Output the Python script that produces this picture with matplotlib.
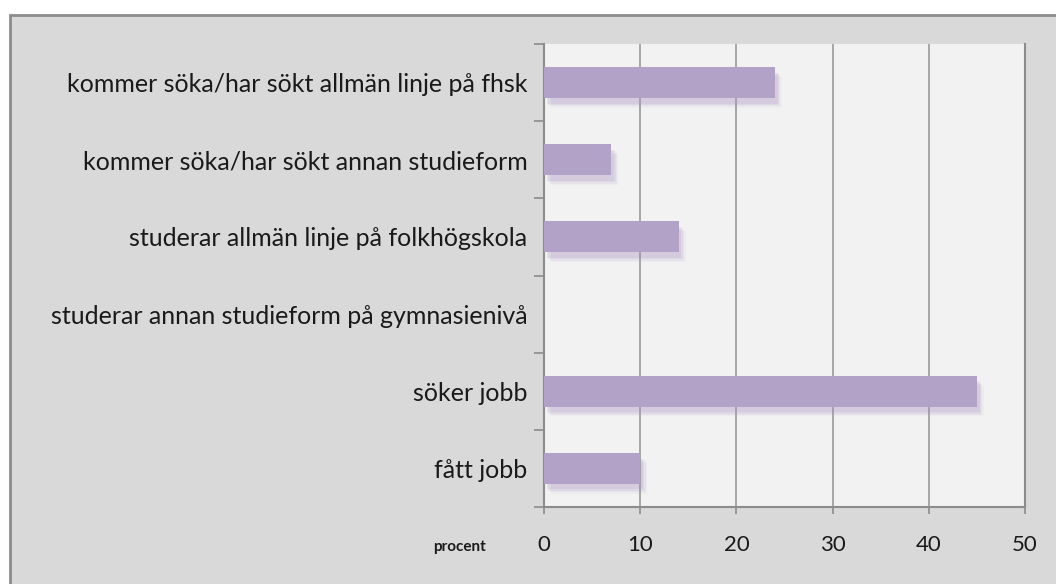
import matplotlib
matplotlib.use("Agg")
import matplotlib.pyplot as plt
import matplotlib.patheffects as pe
from matplotlib.patches import Rectangle
import numpy as np

categories = [
    "kommer söka/har sökt allmän linje på fhsk",
    "kommer söka/har sökt annan studieform",
    "studerar allmän linje på folkhögskola",
    "studerar annan studieform på gymnasienivå",
    "söker jobb",
    "fått jobb",
]
values = [24, 7, 14, 0, 45, 10]
xticks = [0, 10, 20, 30, 40, 50]

plt.rcParams['font.family'] = ['Lato', 'DejaVu Sans']

fig = plt.figure(figsize=(10.56, 5.84), dpi=100)
fig.patch.set_facecolor("white")

# outer chart frame (cut off on the right and bottom)
frame = Rectangle((10 / 1056, -0.1), 1.2, 1 - 15 / 584 + 0.1, transform=fig.transFigure,
                  facecolor="#d9d9d9", edgecolor="#8c8c8c", linewidth=2, zorder=-10)
fig.patches.append(frame)

ax = fig.add_axes([544 / 1056, 1 - 507 / 584, 481 / 1056, 463 / 584])
ax.set_facecolor("#f2f2f2")

y = np.arange(len(categories))
# soft drop shadow below/right of the bars
shadow = [pe.SimplePatchShadow(offset=(d, -d - 2), shadow_rgbFace="#a590c0", alpha=a)
          for d, a in [(5, 0.07), (4, 0.09), (3, 0.12), (2, 0.16)]]
ax.barh(y, values, height=0.4, color="#b2a2c7", zorder=3,
        path_effects=shadow + [pe.Normal()])

ax.set_xlim(0, 50)
ax.set_ylim(len(categories) - 0.5, -0.5)
ax.set_xticks(xticks)
ax.set_xticklabels([str(t) for t in xticks], fontsize=16, color="#1a1a1a")
ax.set_yticks(y)
ax.set_yticklabels(categories, fontsize=18, color="#1a1a1a")
ax.set_yticks(np.arange(len(categories) + 1) - 0.5, minor=True)

ax.tick_params(axis="y", which="major", length=0, pad=12)
ax.tick_params(axis="y", which="minor", length=7, width=1.2, color="#8c8c8c", direction="out")
ax.tick_params(axis="x", length=5, width=1.2, color="#8c8c8c", direction="out", pad=15)

ax.grid(axis="x", color="#9a9a9a", linewidth=1.2, zorder=1)
ax.set_axisbelow(True)
ax.spines["top"].set_visible(False)
for s in ["left", "bottom", "right"]:
    ax.spines[s].set_color("#8c8c8c")
    ax.spines[s].set_linewidth(1.5)

fig.text(460 / 1056, 1 - 547 / 584, "procent", fontsize=11, fontweight="bold",
         ha="center", va="center", color="#1a1a1a")

fig.savefig("out.png", dpi=100, facecolor=fig.get_facecolor())
